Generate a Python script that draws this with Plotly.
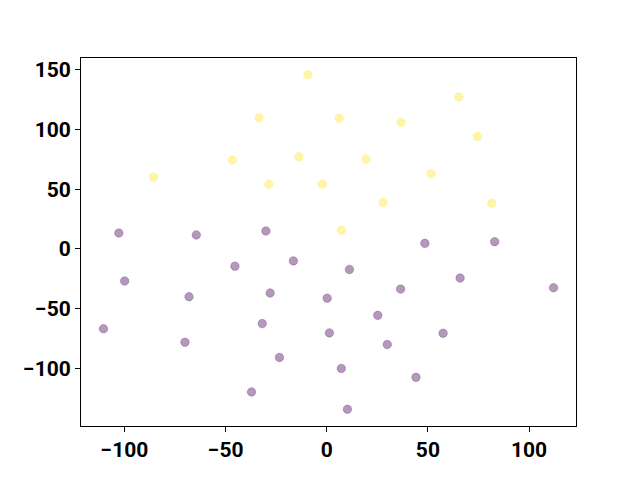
import plotly.graph_objects as go

# Yellow cluster (class 1)
yellow_x = [-9.4, -33.5, -46.7, -13.8, -85.7, -28.6, -2.2, 65.3, 6.1, 36.7, 74.5, 19.4, 51.6, 27.8, 81.5, 7.2]
yellow_y = [145.8, 109.7, 74.4, 77.2, 60.0, 54.2, 54.2, 127.2, 109.4, 106.1, 94.2, 75.3, 63.1, 38.9, 38.3, 15.6]

# Purple cluster (class 0)
purple_x = [-102.8, -64.5, -30.1, 48.5, 83.0, -99.9, -45.4, -16.5, -68.1, -28.0, 0.2, -110.4, -31.9, 1.3,
            -70.1, -23.4, -37.2, 11.2, 65.9, 36.5, 112.1, 25.2, 57.5, 29.9, 7.2, 44.1, 10.2]
purple_y = [13.3, 11.7, 15.0, 4.7, 6.1, -26.9, -14.4, -10.0, -40.0, -36.9, -41.2, -66.9, -62.5, -70.3,
            -78.1, -90.8, -119.7, -17.2, -24.4, -33.6, -32.5, -55.6, -70.6, -80.0, -100.0, -107.5, -134.2]

x_range = [-121.5, 123.2]
y_range = [-148.2, 159.8]
x_ticks = [-100, -50, 0, 50, 100]
y_ticks = [-100, -50, 0, 50, 100, 150]

fig = go.Figure()
fig.add_trace(go.Scatter(
    x=purple_x, y=purple_y, mode="markers",
    marker=dict(size=8.5, color="rgba(68,1,84,0.4)", line=dict(color="rgba(68,1,84,0.3)", width=0.8)),
    showlegend=False, hoverinfo="skip"))
fig.add_trace(go.Scatter(
    x=yellow_x, y=yellow_y, mode="markers",
    marker=dict(size=8.5, color="rgba(253,231,37,0.4)", line=dict(color="rgba(253,231,37,0.3)", width=0.8)),
    showlegend=False, hoverinfo="skip"))

axis_common = dict(
    showline=True, linecolor="black", linewidth=1, mirror=True,
    ticks="outside", ticklen=5, tickwidth=1, tickcolor="black",
    showgrid=False, zeroline=False, automargin=False,
    tickfont=dict(family="Roboto", size=21, color="black", weight="bold"),
)

fig.update_layout(
    width=640, height=480,
    margin=dict(l=73, r=72, t=50, b=62),
    paper_bgcolor="white", plot_bgcolor="white",
    xaxis=dict(range=x_range, tickvals=x_ticks, **axis_common),
    yaxis=dict(range=y_range, tickvals=y_ticks, **axis_common),
)

fig.write_html("out.html")
